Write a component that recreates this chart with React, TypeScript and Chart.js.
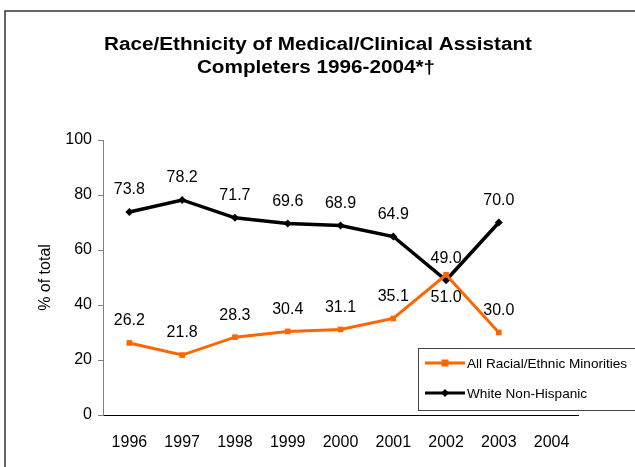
import React, { useEffect, useRef } from "react";
import { Chart, registerables } from "chart.js";

Chart.register(...registerables);

const years = ["1996", "1997", "1998", "1999", "2000", "2001", "2002", "2003", "2004"];
const minorities = [26.2, 21.8, 28.3, 30.4, 31.1, 35.1, 51.0, 30.0, null];
const whiteNonHispanic = [73.8, 78.2, 71.7, 69.6, 68.9, 64.9, 49.0, 70.0, null];
const minorityLabelSide = ["above", "above", "above", "above", "above", "above", "below", "above", "above"];
const whiteLabelSide = ["above", "above", "above", "above", "above", "above", "above", "above", "above"];
const titleLines = ["Race/Ethnicity of Medical/Clinical Assistant", "Completers 1996-2004*\u2020"];
const yTitle = "% of total";

const FONT = "'Liberation Sans', Arial, sans-serif";
const ORANGE = "#FF6600";

const decorPlugin = {
  id: "decor",
  beforeDraw(chart: any) {
    const ctx = chart.ctx;
    ctx.save();
    ctx.fillStyle = "#fff";
    ctx.fillRect(0, 0, chart.width, chart.height);
    ctx.strokeStyle = "#333";
    ctx.lineWidth = 1.5;
    ctx.strokeRect(5, 11, chart.width + 20, chart.height + 20);
    ctx.restore();
  },
  afterDraw(chart: any) {
    const ctx = chart.ctx;
    const area = chart.chartArea;
    ctx.save();
    // title (slightly widened, as in the reference)
    ctx.fillStyle = "#000";
    ctx.font = `bold 18px ${FONT}`;
    ctx.textAlign = "center";
    ctx.textBaseline = "alphabetic";
    const sx = 1.15;
    ctx.save();
    ctx.scale(sx, 1);
    ctx.fillText(titleLines[0], 318 / sx, 50);
    ctx.fillText(titleLines[1], 316 / sx, 73);
    ctx.restore();
    // y title
    ctx.save();
    ctx.translate(46, (area.top + area.bottom) / 2);
    ctx.rotate(-Math.PI / 2);
    ctx.font = `16px ${FONT}`;
    ctx.textAlign = "center";
    ctx.textBaseline = "middle";
    ctx.fillText(yTitle, 0, 0);
    ctx.restore();

    // data labels
    ctx.font = `16px ${FONT}`;
    ctx.textAlign = "center";
    ctx.textBaseline = "middle";
    const sides = [minorityLabelSide, whiteLabelSide];
    chart.data.datasets.forEach((ds: any, di: number) => {
      const meta = chart.getDatasetMeta(di);
      meta.data.forEach((pt: any, i: number) => {
        const v = ds.data[i];
        if (v == null) return;
        const dy = sides[di][i] === "below" ? 23 : -22;
        ctx.fillText(v.toFixed(1), pt.x, pt.y + dy);
      });
    });

    // legend
    const lx = 418, ly = 348, lw = 240, lh = 62;
    ctx.fillStyle = "#fff";
    ctx.fillRect(lx, ly, lw, lh);
    ctx.strokeStyle = "#444";
    ctx.lineWidth = 1;
    ctx.strokeRect(lx + 0.5, ly + 0.5, lw, lh);
    const rows = [ly + 15, ly + 45];
    chart.data.datasets.forEach((ds: any, di: number) => {
      const y = rows[di];
      ctx.strokeStyle = ds.borderColor;
      ctx.lineWidth = 3;
      ctx.beginPath();
      ctx.moveTo(425, y);
      ctx.lineTo(465, y);
      ctx.stroke();
      ctx.fillStyle = ds.borderColor;
      if (di === 0) {
        ctx.fillRect(445 - 3.5, y - 3.5, 7, 7);
      } else {
        ctx.beginPath();
        ctx.moveTo(445, y - 4);
        ctx.lineTo(449, y);
        ctx.lineTo(445, y + 4);
        ctx.lineTo(441, y);
        ctx.closePath();
        ctx.fill();
      }
      ctx.fillStyle = "#000";
      ctx.font = `13.6px ${FONT}`;
      ctx.textAlign = "left";
      ctx.textBaseline = "middle";
      ctx.fillText(ds.label, 467, y + 1);
    });
    ctx.restore();
  },
};

export default function App() {
  const ref = useRef<HTMLCanvasElement | null>(null);
  useEffect(() => {
    document.body.style.margin = "0";
    const canvas = ref.current!;
    const chart = new Chart(canvas, {
      type: "line",
      data: {
        labels: years,
        datasets: [
          {
            label: "All Racial/Ethnic Minorities",
            data: minorities,
            borderColor: ORANGE,
            backgroundColor: ORANGE,
            borderWidth: 3,
            pointStyle: "rect",
            pointRadius: 4,
            pointBorderWidth: 0,
            tension: 0,
          },
          {
            label: "White Non-Hispanic",
            data: whiteNonHispanic,
            borderColor: "#000000",
            backgroundColor: "#000000",
            borderWidth: 3.5,
            pointStyle: "rectRot",
            pointRadius: 4,
            pointBorderWidth: 0,
            tension: 0,
          },
        ],
      },
      options: {
        animation: false,
        responsive: false,
        devicePixelRatio: 1,
        layout: { padding: { left: 0, top: 140, right: 57, bottom: 0 } },
        plugins: { legend: { display: false }, title: { display: false }, tooltip: { enabled: false } },
        scales: {
          x: {
            offset: true,
            grid: { display: false },
            border: { display: true, color: "#000", width: 1 },
            ticks: { color: "#000", font: { family: FONT, size: 16 }, padding: 10, maxRotation: 0 },
            afterFit(scale: any) {
              scale.height = 52;
            },
          },
          y: {
            min: 0,
            max: 100,
            ticks: { stepSize: 20, color: "#000", font: { family: FONT, size: 16 }, padding: 6 },
            grid: { drawOnChartArea: false, drawTicks: true, tickLength: 5, color: "#808080" },
            border: { display: true, color: "#808080", width: 1 },
            afterFit(scale: any) {
              scale.width = 103;
            },
          },
        },
      },
      plugins: [decorPlugin],
    });
    return () => chart.destroy();
  }, []);
  return <canvas ref={ref} width={635} height={467} style={{ display: "block" }} />;
}
